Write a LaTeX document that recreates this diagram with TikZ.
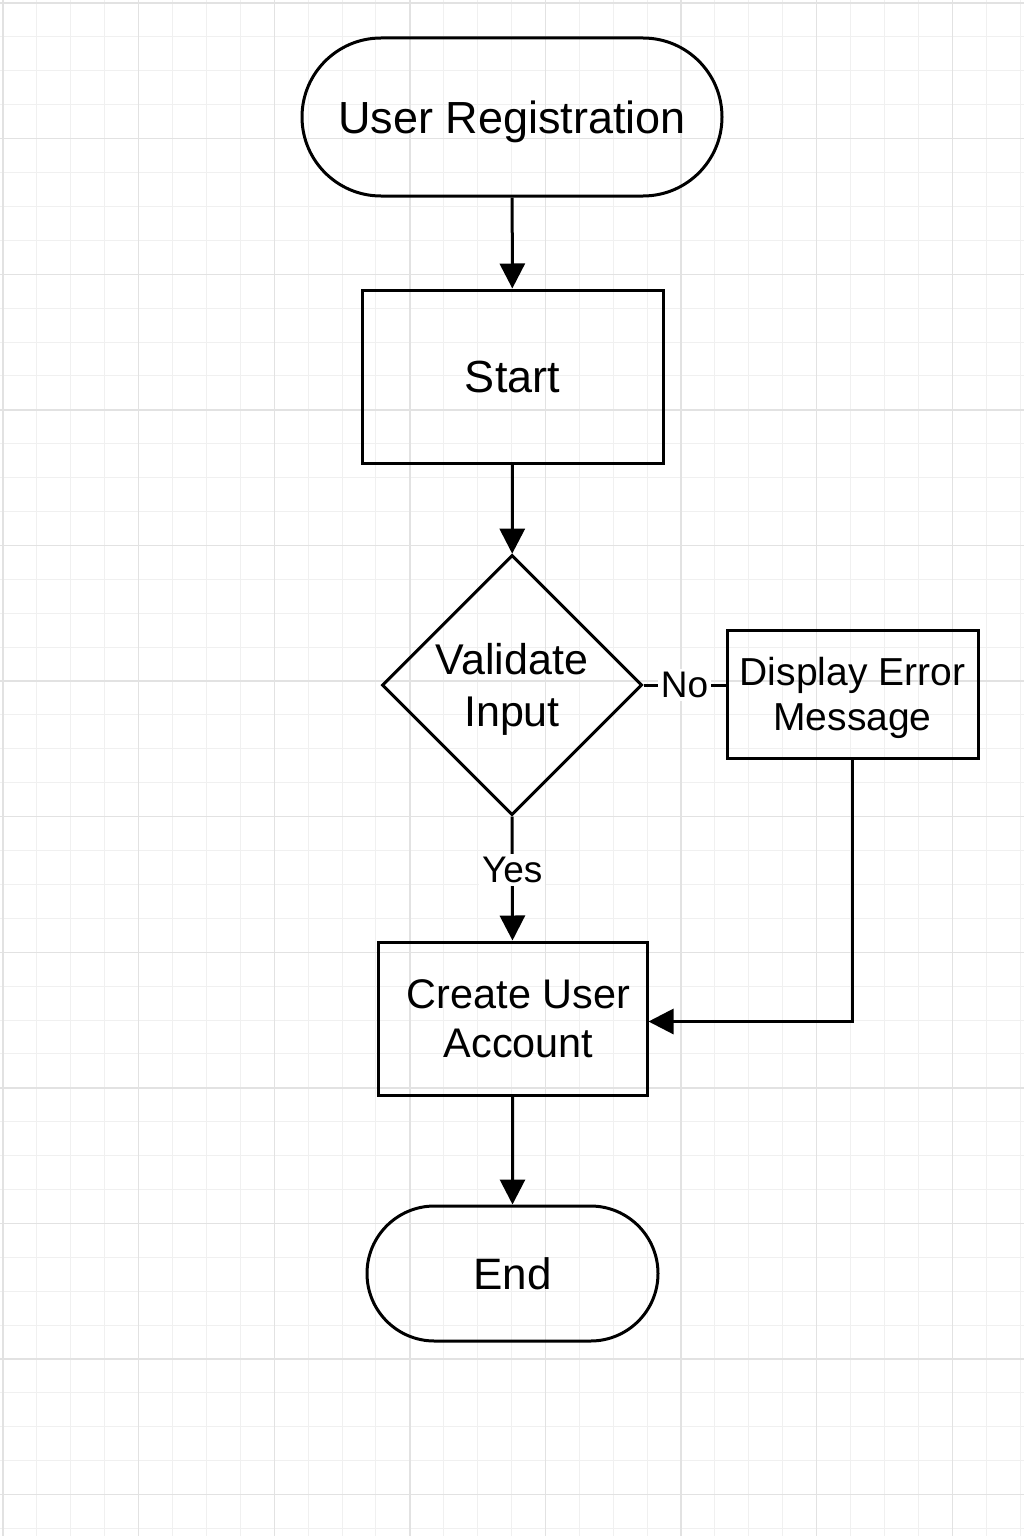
\documentclass[tikz,border=0pt]{standalone}
\usepackage{fontspec}
\setmainfont{Liberation Sans}
\usetikzlibrary{shapes.geometric,shapes.misc,arrows.meta}

\begin{document}
\begin{tikzpicture}[x=0.5pt,y=0.5pt,yscale=-1,xscale=1,
    line width=1.5pt,
    flowline/.style={line width=1.5pt},
    flowarrow/.style={line width=1.5pt,-{Triangle[length=12.5pt,width=12.5pt]}},
    terminal/.style={draw,rounded rectangle,inner sep=0pt,text depth=0pt,font=\fontsize{22.5}{27}\selectfont},
    process/.style={draw,rectangle,inner sep=0pt,text depth=0pt,align=center},
    decision/.style={draw,diamond,aspect=1,inner sep=0pt,text depth=0pt,minimum size=130pt,align=center,font=\fontsize{21.5}{26}\selectfont},
    flowlabel/.style={fill=white,inner sep=1.5pt,font=\fontsize{18.5}{20}\selectfont}]
    \useasboundingbox (0,0) rectangle (1024,1536);
    \fill[white] (0,0) rectangle (1024,1536);
    
    %Grid
    \foreach \k in {0,...,30} {
        \draw[line width=0.5pt,color={rgb,255:red,240;green,240;blue,240}] ({3+33.9*\k},0) -- ({3+33.9*\k},1536);
    }
    \foreach \k in {0,...,45} {
        \draw[line width=0.5pt,color={rgb,255:red,240;green,240;blue,240}] (0,{3+33.9*\k}) -- (1024,{3+33.9*\k});
    }
    \foreach \k in {0,...,7} {
        \draw[line width=0.7pt,color={rgb,255:red,226;green,226;blue,226}] ({3+135.6*\k},0) -- ({3+135.6*\k},1536);
    }
    \foreach \k in {0,...,11} {
        \draw[line width=0.7pt,color={rgb,255:red,226;green,226;blue,226}] (0,{3+135.6*\k}) -- (1024,{3+135.6*\k});
    }
    
    %Shape: Rounded Rect [id:reg]
    \node (reg) at (512,117) [terminal,minimum width=210pt,minimum height=79pt] {User Registration};
    %Shape: Rectangle [id:start]
    \node (start) at (512.5,376.5) [process,minimum width=150.5pt,minimum height=86.5pt,font=\fontsize{22.5}{27}\selectfont] {Start};
    %Shape: Diamond [id:valid]
    \node (valid) at (512,685) [decision] {Validate\\Input};
    %Shape: Rectangle [id:err]
    \node (err) at (852.5,694) [process,minimum width=125.5pt,minimum height=64pt,font=\fontsize{19.5}{22.5}\selectfont] {Display Error\\Message};
    %Shape: Rectangle [id:create]
    \node (create) at (512.5,1018.5) [process,minimum width=134.5pt,minimum height=76.5pt,font=\fontsize{20.7}{24.5}\selectfont] {\hspace*{6pt}Create User\\\hspace*{6pt}Account};
    %Shape: Rounded Rect [id:end]
    \node (end) at (512.5,1273.5) [terminal,minimum width=145.5pt,minimum height=67.5pt,font=\fontsize{22}{26}\selectfont] {End};
    
    %Straight Lines
    \draw[flowarrow] (reg) -- (start);
    \draw[flowarrow] (start) -- (valid);
    \draw[flowarrow] (valid.south) -- node[flowlabel,pos=0.43] {Yes} (create.north);
    \draw[flowline] (valid.east) -- node[flowlabel] {No} (valid.east -| err.west);
    \draw[flowarrow] (err.south) -- ([yshift=1.5pt]err.south |- create.east) -- ([yshift=1.5pt]create.east);
    \draw[flowarrow] (create) -- (end);
    
\end{tikzpicture}
\end{document}
